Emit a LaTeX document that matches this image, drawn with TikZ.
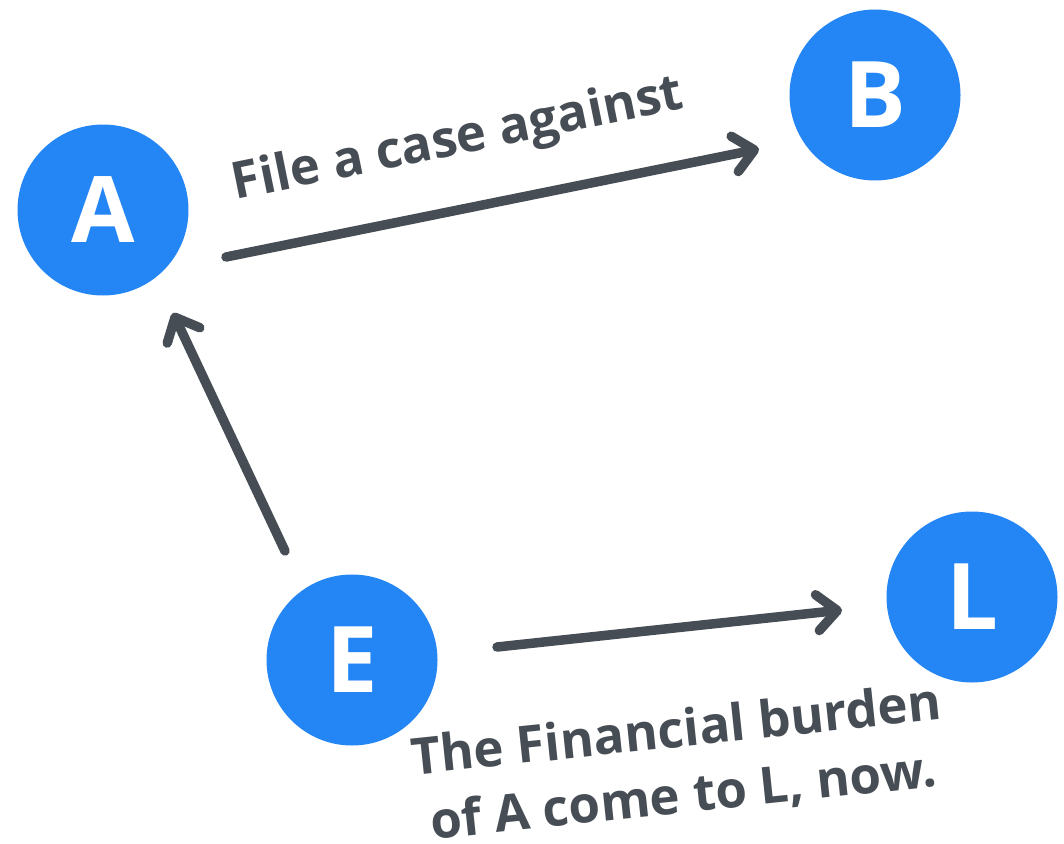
\documentclass[tikz,border=0pt]{standalone}
\usepackage{fontspec}
\setmainfont{Open Sans}
\usetikzlibrary{arrows.meta,calc}
\definecolor{nodeblue}{HTML}{2486F5}
\definecolor{inkgray}{HTML}{474D54}
\begin{document}
\begin{tikzpicture}[x=1pt,y=-1pt,
        circ/.style={circle,fill=nodeblue,minimum size=171pt,inner sep=0pt,text=white,font=\fontsize{92}{100}\selectfont\bfseries},
        lbl/.style={text=inkgray,font=\fontsize{51}{66}\selectfont\bfseries,align=center,inner sep=0pt},
        arr/.style={draw=inkgray,line width=9.5pt,line cap=round,-{Straight Barb[length=20pt,width=36pt,round]}}]
        \useasboundingbox (0,0) rectangle (1064,843);

        \node[circ] (A) at (103,210) {A};
        \node[circ] (B) at (875,95) {B};
        \node[circ] (E) at (352,660) {E};
        \node[circ] (L) at (972,597) {L};

        % arrow ends
        \coordinate (ab) at ($(A)+(123,47)$);
        \coordinate (ba) at ($(B)+(-116,54)$);
        \coordinate (ea) at ($(E)+(-67,-109)$);
        \coordinate (ae) at ($(A)+(70,103)$);
        \coordinate (el) at ($(E)+(145,-13)$);
        \coordinate (le) at ($(L)+(-130,13)$);

        \draw[arr] (ab) -- (ba);
        \draw[arr] (ea) -- (ae);
        \draw[arr] (el) -- (le);

        \node[lbl,rotate=11.5] (t1) at (458,141) {File a case against};
        \node[lbl,rotate=6] (t2) at (680,764) {The Financial burden\\of A come to L, now.};
    \end{tikzpicture}
\end{document}
